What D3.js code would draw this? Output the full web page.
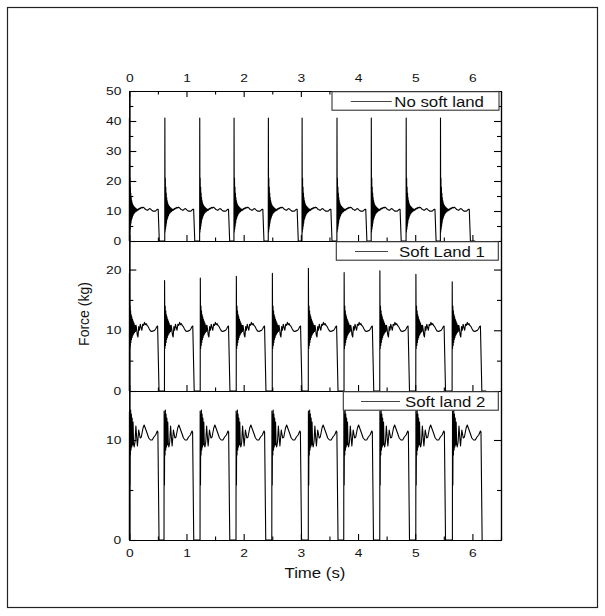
<!DOCTYPE html>
<html><head><meta charset="utf-8">
<script src="https://cdn.jsdelivr.net/npm/d3@7"></script>
<style>
body{margin:0;background:#fff}
svg{display:block}
text{font-family:"Liberation Sans",Arial,Helvetica,sans-serif;fill:#111}
</style>
</head><body>
<svg id="c" width="605" height="616"></svg>
<script>
// ---------------- data ----------------
const timeTicks = [0, 1, 2, 3, 4, 5, 6];
const timeMinorTicks = [0.5, 1.5, 2.5, 3.5, 4.5, 5.5, 6.5];
const seriesNames = ["No soft land", "Soft Land 1", "Soft land 2"];

const panel1Ticks = [0, 10, 20, 30, 40, 50];
const panel1Minor = [5, 15, 25, 35, 45];
const panel2Ticks = [0, 10, 20];
const panel2Minor = [5, 15];
const panel3Ticks = [0, 10];
const panel3Minor = [5];

// cycle onset times (s)
const noSoftOnsets    = [0.00, 0.62, 1.23, 1.83, 2.43, 3.02, 3.63, 4.23, 4.84, 5.44];
const softLand1Onsets = [0.00, 0.615, 1.24, 1.87, 2.50, 3.13, 3.755, 4.38, 5.01, 5.645];
const softLand2Onsets = [0.00, 0.607, 1.237, 1.866, 2.492, 3.13, 3.75, 4.38, 5.01, 5.65];

// impact peak of each cycle (kg)
const noSoftPeaks    = [41, 41, 41, 41, 41, 41, 41, 41, 41, 41];
const softLand1Peaks = [19.4, 18.2, 18.6, 18.9, 19.4, 20.2, 19.5, 19.8, 19.2, 18.0];
const softLand2Peaks = [12.8, 12.9, 12.9, 12.9, 12.9, 12.9, 12.9, 12.9, 12.9, 12.9];

// force trace of one cycle after the peak: [time since onset (s), force (kg)]
const noSoftShape = [
  [0.006,3],[0.010,21],[0.014,4],[0.018,18],[0.022,5],[0.026,16],[0.030,6],[0.034,14.5],
  [0.038,7],[0.042,13.5],[0.046,7.5],[0.050,12.8],[0.055,8],[0.060,12.2],[0.065,8.5],
  [0.070,11.8],[0.076,9],[0.082,11.5],[0.088,9.3],[0.094,11.2],[0.100,9.6],[0.108,11],
  [0.116,9.8],[0.125,10.7],[0.135,10.1],[0.145,10.6],[0.155,10.3],[0.165,10.8],[0.175,10.6],
  [0.185,11.0],[0.195,10.8],[0.21,11.2],[0.225,11.0],[0.24,11.3],[0.255,11.1],[0.27,10.8],
  [0.285,10.5],[0.30,10.4],[0.315,10.2],[0.33,10.4],[0.345,10.7],[0.36,10.8],[0.375,10.6],
  [0.39,10.3],[0.405,10.1],[0.42,9.9],[0.435,10.0],[0.45,9.9],[0.465,10.1],[0.48,10.4],
  [0.495,10.6],[0.505,10.6],[0.525,0]
];
const softLand1Shape = [
  [0.008,7],[0.013,14],[0.018,7.5],[0.023,13.2],[0.028,8],[0.033,12.6],[0.038,8.5],
  [0.044,12.2],[0.050,8.8],[0.056,11.8],[0.062,9.2],[0.068,11.5],[0.075,9.4],[0.082,11.2],
  [0.090,9.6],[0.098,10.8],[0.108,9.8],[0.118,10.8],[0.128,10.2],[0.14,9.2],[0.152,8.9],
  [0.165,10.6],[0.178,10.0],[0.192,11.0],[0.205,10.5],[0.22,10.0],[0.235,11.0],[0.25,10.8],
  [0.265,11.3],[0.28,10.9],[0.295,11.1],[0.31,10.8],[0.33,10.6],[0.35,10.2],[0.37,9.9],
  [0.395,9.8],[0.42,9.9],[0.445,10.0],[0.465,10.3],[0.48,10.6],[0.495,10.7],[0.52,0]
];
const softLand2Shape = [
  [0.008,5.5],[0.013,12.5],[0.018,8.5],[0.024,13],[0.030,9],[0.036,12.6],[0.043,9.3],
  [0.050,12.2],[0.058,9.5],[0.066,11.8],[0.075,9.6],[0.085,9.3],[0.10,9.8],[0.115,11.4],
  [0.13,10.2],[0.142,9.4],[0.165,11.0],[0.19,10.2],[0.21,10.3],[0.24,11.2],[0.26,11.5],
  [0.285,11.1],[0.31,10.7],[0.34,10.2],[0.37,10.0],[0.40,10.0],[0.43,10.3],[0.46,10.5],
  [0.49,10.9],[0.50,10.8],[0.52,0]
];
// time at which each recording ends (trailing zero)
const recordEnds = [6.05, 6.24, null];

// ---------------- build series ----------------
function buildSeries(onsets, peaks, shape, end) {
  const pts = [];
  onsets.forEach((on, i) => {
    pts.push([on, 0]);
    pts.push([on + 0.002, peaks[i]]);
    shape.forEach(([d, v]) => pts.push([on + d, v]));
  });
  if (end != null) pts.push([end, 0]);
  return pts;
}
const series = [
  buildSeries(noSoftOnsets, noSoftPeaks, noSoftShape, recordEnds[0]),
  buildSeries(softLand1Onsets, softLand1Peaks, softLand1Shape, recordEnds[1]),
  buildSeries(softLand2Onsets, softLand2Peaks, softLand2Shape, recordEnds[2])
];

// ---------------- layout ----------------
const svg = d3.select("#c");
const L = 129.3, R = 501;
const panels = [
  {top: 91,  bottom: 241, domain: [0, 50],   ticks: panel1Ticks, minor: panel1Minor,
   legend: {x0: 332, x1: 499, lx0: 350.7, lx1: 391.7, tx: 394.3}},
  {top: 241, bottom: 391, domain: [0, 24.7], ticks: panel2Ticks, minor: panel2Minor,
   legend: {x0: 336.3, x1: 498.3, lx0: 355, lx1: 388, tx: 399}},
  {top: 391, bottom: 540, domain: [0, 14.9], ticks: panel3Ticks, minor: panel3Minor,
   legend: {x0: 343.3, x1: 498.3, lx0: 361, lx1: 400, tx: 405}}
];

// outer frame
svg.append("rect").attr("x", 7.5).attr("y", 7.5).attr("width", 590).attr("height", 600)
  .attr("fill", "none").attr("stroke", "#222").attr("stroke-width", 1.2);

const x = d3.scaleLinear().domain([0, 6.5]).range([L, R]);

function styleAxis(g) {
  g.selectAll("path.domain").attr("stroke", "#000").attr("stroke-width", 1.2);
  g.selectAll(".tick line").attr("stroke", "#000").attr("stroke-width", 1.1);
  g.selectAll("text").attr("font-family", null).style("font-size", "11.5px").attr("class", "stretch");
}

const line = d3.line();

panels.forEach((p, i) => {
  const y = d3.scaleLinear().domain(p.domain).range([p.bottom, p.top]);

  // trace
  svg.append("path")
    .datum(series[i])
    .attr("d", line.x(d => x(d[0])).y(d => y(d[1])))
    .attr("fill", "none").attr("stroke", "#000").attr("stroke-width", 1.1)
    .attr("stroke-linejoin", "round");

  // left axis
  svg.append("g").attr("transform", `translate(${L},0)`)
    .call(d3.axisLeft(y).tickValues(p.minor).tickSizeInner(-4).tickSizeOuter(0).tickFormat(""))
    .call(styleAxis);
  svg.append("g").attr("transform", `translate(${L},0)`)
    .call(d3.axisLeft(y).tickValues(p.ticks).tickSizeInner(-7).tickSizeOuter(0).tickPadding(8).tickFormat(d3.format("d")))
    .call(styleAxis);
  // right axis
  svg.append("g").attr("transform", `translate(${R},0)`)
    .call(d3.axisRight(y).tickValues(p.minor).tickSizeInner(-4).tickSizeOuter(0).tickFormat(""))
    .call(styleAxis);
  svg.append("g").attr("transform", `translate(${R},0)`)
    .call(d3.axisRight(y).tickValues(p.ticks).tickSizeInner(-7).tickSizeOuter(0).tickFormat(""))
    .call(styleAxis);

  // bottom axis of the panel (ticks pointing up)
  const isLast = i === panels.length - 1;
  svg.append("g").attr("transform", `translate(0,${p.bottom})`)
    .call(d3.axisBottom(x).tickValues(timeMinorTicks).tickSizeInner(-3.5).tickSizeOuter(0).tickFormat(""))
    .call(styleAxis);
  svg.append("g").attr("transform", `translate(0,${p.bottom})`)
    .call(d3.axisBottom(x).tickValues(timeTicks).tickSizeInner(-6).tickSizeOuter(0).tickPadding(8.5)
      .tickFormat(isLast ? d3.format("d") : ""))
    .call(styleAxis);

  // top axis on the first panel
  if (i === 0) {
    svg.append("g").attr("transform", `translate(0,${p.top})`)
      .call(d3.axisTop(x).tickValues(timeMinorTicks).tickSizeInner(-3.5).tickSizeOuter(0).tickFormat(""))
      .call(styleAxis);
    svg.append("g").attr("transform", `translate(0,${p.top})`)
      .call(d3.axisTop(x).tickValues(timeTicks).tickSizeInner(-6).tickSizeOuter(0).tickPadding(9).tickFormat(d3.format("d")))
      .call(styleAxis);
  }

  // legend box
  const lg = p.legend;
  const lt = p.top + 0.7, lh = 18.5;
  svg.append("rect").attr("x", lg.x0).attr("y", lt).attr("width", lg.x1 - lg.x0).attr("height", lh)
    .attr("fill", "#fff").attr("stroke", "#333").attr("stroke-width", 1.1);
  svg.append("line").attr("x1", lg.lx0).attr("x2", lg.lx1)
    .attr("y1", lt + lh / 2 + 0.5).attr("y2", lt + lh / 2 + 0.5)
    .attr("stroke", "#444").attr("stroke-width", 1.1);
  svg.append("text").attr("class", "stretch legend").attr("x", lg.tx).attr("y", lt + 15)
    .style("font-size", "14px").text(seriesNames[i]);
});

// axis titles
svg.append("text").attr("class", "stretch").attr("x", 315).attr("y", 577.5)
  .attr("text-anchor", "middle").style("font-size", "14px").text("Time (s)");
svg.append("text").attr("transform", "translate(89,314) rotate(-90)")
  .attr("text-anchor", "middle").style("font-size", "14px").text("Force (kg)");

// widen horizontal text to match the reference's wide lettering
svg.selectAll("text.stretch").each(function () {
  const w = this.getComputedTextLength();
  if (w > 0) d3.select(this).attr("textLength", w * 1.2).attr("lengthAdjust", "spacingAndGlyphs");
});
</script>
</body></html>
